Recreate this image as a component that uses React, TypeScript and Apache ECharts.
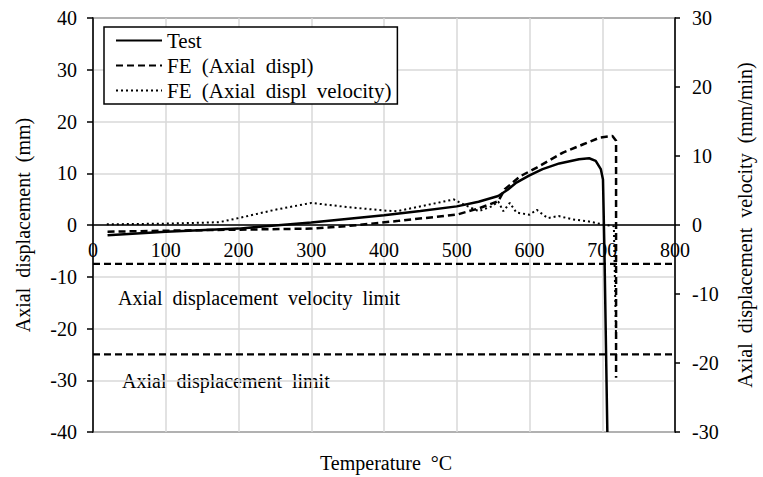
import React, { useEffect, useRef } from "react";
import * as echarts from "echarts";

const FONT = "Liberation Serif";
const FS = 20;

const xTicks = [0, 100, 200, 300, 400, 500, 600, 700, 800];

// Test (mm, left axis)
const testData: number[][] = [
  [20, -2.0], [100, -1.3], [200, -0.7], [300, 0.5], [400, 1.9], [450, 2.7],
  [500, 3.6], [530, 4.5], [557, 5.6], [570, 6.8], [582, 8.2], [600, 9.6],
  [618, 10.8], [641, 11.9], [668, 12.7], [682, 12.9], [691, 12.4], [698, 10.8],
  [701, 8.8], [703, -5], [707, -40],
];

// FE axial displacement (mm, left axis)
const feDisplData: number[][] = [
  [20, -1.3], [100, -1.1], [200, -0.9], [300, -0.7], [350, -0.2], [420, 0.8],
  [500, 2.0], [530, 3.2], [557, 4.6], [566, 6.9], [587, 9.4], [610, 11.1],
  [646, 14.0], [674, 15.6], [697, 16.9], [714, 17.2], [719, 16.3], [719, -29.5],
];

// FE axial displacement velocity (mm/min, right axis)
const feVelData: number[][] = [
  [19, 0.1], [100, 0.2], [173, 0.4], [200, 1.0], [250, 2.2], [300, 3.2],
  [350, 2.6], [400, 2.1], [418, 2.0], [482, 3.4], [496, 3.7], [505, 3.2],
  [530, 2.0], [548, 2.7], [557, 3.4], [564, 2.0], [573, 3.2], [582, 1.8],
  [600, 1.5], [610, 2.2], [625, 1.0], [640, 1.3], [660, 0.8], [680, 0.55],
  [700, 0.1], [716, -0.2], [719, -16.5],
];

// Limits (mm, left axis)
const velocityLimit = -7.5;
const displacementLimit = -25;

const seriesNames = ["Test", "FE (Axial displ)", "FE (Axial displ velocity)"];

export default function App() {
  const ref = useRef<HTMLDivElement>(null);
  useEffect(() => {
    if (!ref.current) return;
    const chart = echarts.init(ref.current, undefined, { renderer: "svg" });
    const limitLine = (v: number) => ({
      type: "line",
      yAxisIndex: 0,
      symbol: "none",
      silent: true,
      data: [[xTicks[0], v], [xTicks[xTicks.length - 1], v]],
      lineStyle: { color: "#000", width: 2.2, type: [7, 4] },
      z: 3,
    });
    const lbl = { fontSize: FS, fontFamily: FONT, color: "#000" };
    chart.setOption({
      animation: false,
      backgroundColor: "#fff",
      textStyle: { fontFamily: FONT, color: "#000" },
      grid: {
        left: 93, right: 83, top: 18, bottom: 45,
        show: true, borderColor: "#000", borderWidth: 1.5,
      },
      legend: {
        data: seriesNames,
        orient: "vertical",
        left: 104,
        top: 27,
        padding: [3, 21, 3, 11],
        itemGap: 4,
        itemWidth: 46,
        itemHeight: 14,
        selectedMode: false,
        backgroundColor: "#fff",
        borderColor: "#000",
        borderWidth: 1.5,
        itemStyle: { opacity: 0, color: "transparent", borderWidth: 0 },
        textStyle: { ...lbl, fontSize: 21, lineHeight: 21 },
      },
      xAxis: {
        type: "value",
        min: 0,
        max: 800,
        interval: 100,
        position: "bottom",
        offset: -207,
        axisLine: { onZero: false, lineStyle: { color: "#000", width: 1.5 } },
        axisTick: { show: false },
        axisLabel: { ...lbl, margin: 15 },
        splitLine: { show: true, lineStyle: { color: "#d9d9d9", width: 1.5 } },
      },
      yAxis: [
        {
          type: "value",
          min: -40,
          max: 40,
          interval: 10,
          name: "Axial displacement (mm)",
          nameLocation: "middle",
          nameRotate: 90,
          nameGap: 60,
          nameTextStyle: lbl,
          axisLine: { show: true, onZero: false, lineStyle: { color: "#000", width: 1.5 } },
          axisTick: { show: true, inside: false, length: 6, lineStyle: { color: "#000", width: 1.5 } },
          axisLabel: { ...lbl, margin: 16 },
          splitLine: { show: true, lineStyle: { color: "#d9d9d9", width: 1.5 } },
        },
        {
          type: "value",
          position: "right",
          min: -30,
          max: 30,
          interval: 10,
          name: "Axial displacement velocity (mm/min)",
          nameLocation: "middle",
          nameRotate: 90,
          nameGap: 60,
          nameTextStyle: lbl,
          axisLine: { show: true, onZero: false, lineStyle: { color: "#000", width: 1.5 } },
          axisTick: { show: true, inside: false, length: 5, lineStyle: { color: "#000", width: 1.5 } },
          axisLabel: { ...lbl, margin: 17 },
          splitLine: { show: false },
        },
      ],
      series: [
        {
          name: seriesNames[0],
          type: "line",
          yAxisIndex: 0,
          symbol: "none",
          data: testData,
          lineStyle: { color: "#000", width: 2.5, type: "solid" },
          itemStyle: { color: "#000" },
          z: 5,
        },
        {
          name: seriesNames[1],
          type: "line",
          yAxisIndex: 0,
          symbol: "none",
          data: feDisplData,
          lineStyle: { color: "#000", width: 2.5, type: [7, 4] },
          itemStyle: { color: "#000" },
          z: 4,
        },
        {
          name: seriesNames[2],
          type: "line",
          yAxisIndex: 1,
          symbol: "none",
          data: feVelData,
          lineStyle: { color: "#000", width: 2, type: [2, 3] },
          itemStyle: { color: "#000" },
          z: 4,
        },
        limitLine(velocityLimit),
        limitLine(displacementLimit),
      ],
      graphic: [
        {
          type: "text",
          x: 118,
          y: 298,
          style: {
            text: "Axial displacement velocity limit",
            fontSize: FS, fontFamily: FONT, fill: "#000",
            align: "left", verticalAlign: "middle",
          },
        },
        {
          type: "text",
          x: 122,
          y: 381,
          style: {
            text: "Axial displacement limit",
            fontSize: FS, fontFamily: FONT, fill: "#000",
            align: "left", verticalAlign: "middle",
          },
        },
        {
          type: "text",
          x: 320,
          y: 463,
          style: {
            text: "Temperature °C",
            fontSize: FS, fontFamily: FONT, fill: "#000",
            align: "left", verticalAlign: "middle",
          },
        },
      ],
    });
    return () => chart.dispose();
  }, []);
  return (
    <>
      <style>{`.chart-root svg text { word-spacing: 5px; }`}</style>
      <div
        ref={ref}
        className="chart-root"
        style={{ position: "fixed", left: 0, top: 0, width: 763, height: 477 }}
      />
    </>
  );
}
